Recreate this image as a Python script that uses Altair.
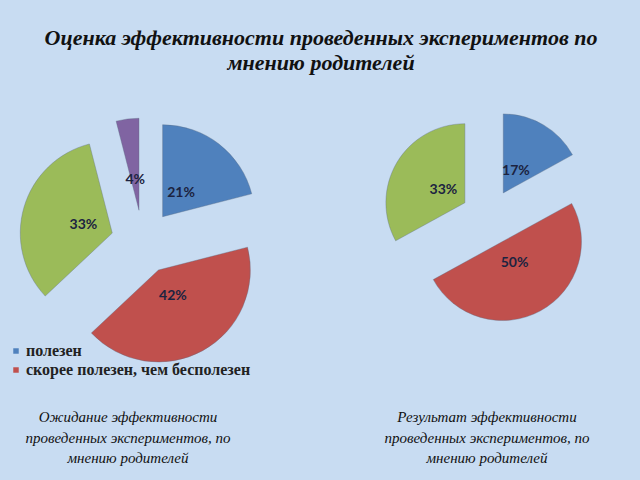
import altair as alt
import pandas as pd

# ---- data ----
categories = ["полезен", "скорее полезен, чем бесполезен",
              "скорее бесполезен, чем полезен", "бесполезен"]
left_values = [21, 42, 33, 4]
right_values = [17, 50, 33]
slice_colors = ["#4F81BD", "#C0504D", "#9BBB59", "#8064A2"]

title_lines = ["Оценка эффективности проведенных экспериментов по", "мнению родителей"]
left_caption = ["Ожидание эффективности", "проведенных экспериментов, по", "мнению родителей"]
right_caption = ["Результат эффективности", "проведенных экспериментов, по", "мнению родителей"]
legend_shown = categories[:2]

BG = "#c8dcf2"
SERIF = "Liberation Serif"


def pie(values, cats, cx, cy, r, d, lr):
    df = pd.DataFrame({"category": cats[:len(values)], "value": values,
                       "order": list(range(len(values)))})
    base = alt.Chart(df).transform_window(
        cum="sum(value)", sort=[alt.SortField("order")], frame=[None, 0]
    ).transform_joinaggregate(total="sum(value)").transform_calculate(
        a0="2*PI*(datum.cum - datum.value)/datum.total",
        a1="2*PI*datum.cum/datum.total",
    ).transform_calculate(
        mid="(datum.a0 + datum.a1)/2"
    ).transform_calculate(
        px=f"{cx} + {d}*sin(datum.mid)",
        py=f"{cy} - {d}*cos(datum.mid)",
        lx=f"{cx} + {lr}*sin(datum.mid)",
        ly=f"{cy} - {lr}*cos(datum.mid)",
        lab="format(datum.value, 'd') + '%'",
    )
    arcs = base.mark_arc(radius=r, stroke="#5a6a80", strokeWidth=0.6, strokeOpacity=0.6).encode(
        theta=alt.Theta("a0:Q", scale=None, stack=None),
        theta2="a1:Q",
        x=alt.X("px:Q", scale=None),
        y=alt.Y("py:Q", scale=None),
        color=alt.Color(
            "category:N",
            scale=alt.Scale(domain=categories, range=slice_colors),
            legend=alt.Legend(
                values=legend_shown, orient="none", legendX=8, legendY=343,
                title=None, symbolType="square", symbolSize=30,
                symbolStrokeWidth=0, labelFont=SERIF, labelFontSize=16,
                labelFontWeight="bold", labelColor="#222222", rowPadding=3,
                labelOffset=2, labelLimit=0,
            ),
        ),
    )
    labels = base.mark_text(font="Lato", fontSize=14, fontWeight="bold",
                            color="#1c2340").encode(
        x=alt.X("lx:Q", scale=None),
        y=alt.Y("ly:Q", scale=None),
        text="lab:N",
    )
    return arcs + labels


def text_block(lines, x, y, size, weight, line_height):
    return alt.Chart(alt.Data(values=[{"k": 0}])).mark_text(
        text=lines, font=SERIF, fontSize=size, fontStyle="italic",
        fontWeight=weight, color="#111111", align="center",
        baseline="middle", lineHeight=line_height,
    ).encode(x=alt.value(x), y=alt.value(y))


left_pie = pie(left_values, categories, 143, 242, 92, 32, 62)
right_pie = pie(right_values, categories, 489, 217, 79, 28, 53)

title = text_block(title_lines, 321, 38, 22, "bold", 25)
cap_l = text_block(left_caption, 128, 417, 15, "normal", 20.5)
cap_r = text_block(right_caption, 487, 417, 15, "normal", 20.5)

chart = alt.layer(left_pie, right_pie, title, cap_l, cap_r).properties(
    width=640, height=480, background=BG, padding=0,
    autosize=alt.AutoSizeParams(type="none"),
).configure_view(stroke=None)

chart.save("out.html", embed_options={"renderer": "svg", "actions": False})
